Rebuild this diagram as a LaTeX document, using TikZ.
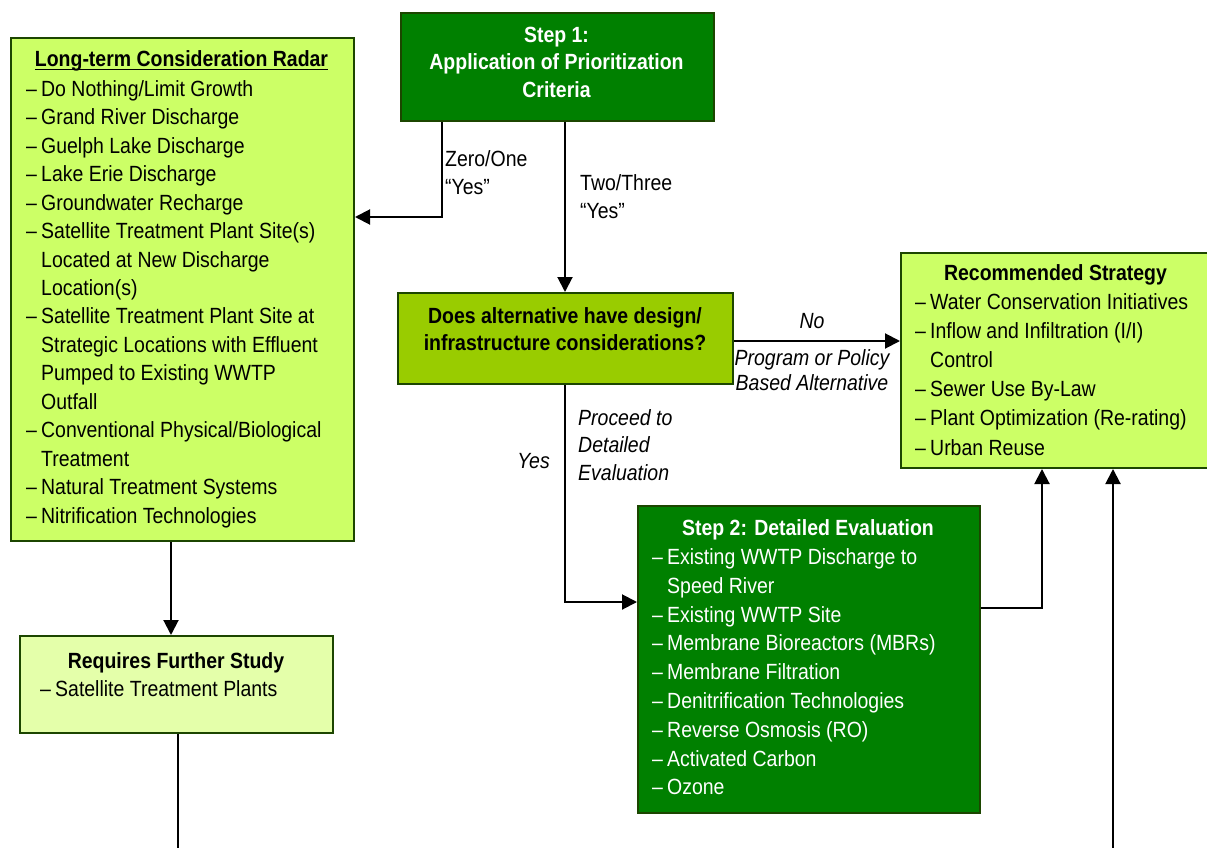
\documentclass[tikz,border=0pt]{standalone}
\usepackage{fontspec}
\setmainfont{Liberation Sans}[FakeStretch=0.885]
\usetikzlibrary{arrows.meta}
\definecolor{cLime}{HTML}{CCFF66}
\definecolor{cDec}{HTML}{99CC00}
\definecolor{cDark}{HTML}{008000}
\definecolor{cPale}{HTML}{E4FFAA}
\definecolor{cBorder}{HTML}{1C4600}
\newcommand\itm{\makebox[15pt][l]{\char"2013}}
\newcommand\ind{\hspace*{15pt}}
\newcommand\strutA{\rule{0pt}{20pt}}
\newcommand\myul[1]{\setbox0\hbox{#1}\rlap{\rule[-3.5pt]{\wd0}{1.6pt}}\box0}
\tikzset{
  x=1pt, y=-1pt,
  boxstyle/.style={draw=cBorder, line width=2pt, inner sep=0pt, anchor=north west},
  txt/.style={inner sep=0pt, font=\fontsize{22}{28.5}\selectfont},
  btxt/.style={inner sep=0pt, font=\fontsize{22}{28}\selectfont\bfseries},
  itxt/.style={inner sep=0pt, font=\fontsize{22}{27}\selectfont\itshape},
  arr/.style={line width=2pt, -{Triangle[length=15pt,width=15pt]}},
  wire/.style={line width=2pt}
}
\begin{document}
\begin{tikzpicture}
\useasboundingbox (0,0) rectangle (1207,848);
% boxes
\node[boxstyle, fill=cLime, minimum width=343pt, minimum height=503pt] (ltcr) at (10,37) {};
\node[boxstyle, fill=cDark, minimum width=313pt, minimum height=108pt] (step1) at (400,12) {};
\node[boxstyle, fill=cDec, minimum width=335pt, minimum height=91pt] (dec) at (397,292) {};
\node[boxstyle, fill=cLime, minimum width=320pt, minimum height=215pt] (rec) at (900,252) {};
\node[boxstyle, fill=cDark, minimum width=342pt, minimum height=307pt] (step2) at (637,505) {};
\node[boxstyle, fill=cPale, minimum width=313pt, minimum height=97pt] (req) at (19,635) {};
% texts
\node[btxt, anchor=base] (ltcrT) at (181.5,67) {\myul{Long-term Consideration Radar}};
\node[txt, anchor=north west, align=left, font=\fontsize{22}{28.47}\selectfont] (ltcrL) at (26,76) {\strutA\itm Do Nothing/Limit Growth\\
\itm Grand River Discharge\\
\itm Guelph Lake Discharge\\
\itm Lake Erie Discharge\\
\itm Groundwater Recharge\\
\itm Satellite Treatment Plant Site(s)\\
\ind Located at New Discharge\\
\ind Location(s)\\
\itm Satellite Treatment Plant Site at\\
\ind Strategic Locations with Effluent\\
\ind Pumped to Existing WWTP\\
\ind Outfall\\
\itm Conventional Physical/Biological\\
\ind Treatment\\
\itm Natural Treatment Systems\\
\itm Nitrification Technologies};
\node[btxt, anchor=north, align=center, text=white, font=\fontsize{22}{27.75}\selectfont\bfseries] (step1T) at (556.5,22) {\strutA Step 1:\\Application of Prioritization\\Criteria};
\node[btxt, anchor=north, align=center, font=\fontsize{22}{27}\selectfont\bfseries] (decT) at (565,303) {\strutA Does alternative have design/\\infrastructure considerations?};
\node[btxt, anchor=base] (recT) at (1055.5,280) {Recommended Strategy};
\node[txt, anchor=north west, align=left, font=\fontsize{22}{29.1}\selectfont] (recL) at (915,289.3) {\strutA\itm Water Conservation Initiatives\\
\itm Inflow and Infiltration (I/I)\\
\ind Control\\
\itm Sewer Use By-Law\\
\itm Plant Optimization (Re-rating)\\
\itm Urban Reuse};
\node[btxt, anchor=base, text=white] (step2T) at (808,535) {Step 2: Detailed Evaluation};
\node[txt, anchor=north west, align=left, text=white, font=\fontsize{22}{28.8}\selectfont] (step2L) at (652,544.3) {\strutA\itm Existing WWTP Discharge to\\
\ind Speed River\\
\itm Existing WWTP Site\\
\itm Membrane Bioreactors (MBRs)\\
\itm Membrane Filtration\\
\itm Denitrification Technologies\\
\itm Reverse Osmosis (RO)\\
\itm Activated Carbon\\
\itm Ozone};
\node[btxt, anchor=base] (reqT) at (176,668) {Requires Further Study};
\node[txt, anchor=base west] (reqL) at (40,696.7) {\itm Satellite Treatment Plants};
% labels
\node[txt, anchor=north west, align=left, font=\fontsize{22}{28}\selectfont] (lab1) at (445,146) {\strutA Zero/One\\\char"201C Yes\char"201D};
\node[txt, anchor=north west, align=left, font=\fontsize{22}{28}\selectfont] (lab2) at (580,170) {\strutA Two/Three\\\char"201C Yes\char"201D};
\node[itxt, anchor=base] (lab3) at (812,328) {No};
\node[itxt, anchor=north, align=center, font=\fontsize{22}{25}\selectfont\itshape] (lab4) at (812,345) {\strutA Program or Policy\\Based Alternative};
\node[itxt, anchor=base east] (lab5) at (550,468) {Yes};
\node[itxt, anchor=north west, align=left, font=\fontsize{22}{27.5}\selectfont\itshape] (lab6) at (578,405) {\strutA Proceed to\\Detailed\\Evaluation};
% bend coordinates
\coordinate (b1) at (442,217);
\coordinate (b2) at (565,0);
\coordinate (b3) at (0,341);
\coordinate (b4) at (565,602);
\coordinate (b5) at (1042,608);
\coordinate (b6) at (1113,848);
\coordinate (b7) at (171,0);
\coordinate (b8) at (178,848);
% connectors
\draw[arr] (step1.south -| b1) |- (ltcr.east |- b1);
\draw[arr] (step1.south -| b2) -- (dec.north -| b2);
\draw[arr] (dec.east |- b3) -- (rec.west |- b3);
\draw[arr] (dec.south -| b4) |- (step2.west |- b4);
\draw[arr] (step2.east |- b5) -| (rec.south -| b5);
\draw[arr] (b6) -- (rec.south -| b6);
\draw[arr] (ltcr.south -| b7) -- (req.north -| b7);
\draw[wire] (req.south -| b8) -- (b8);
\end{tikzpicture}
\end{document}
